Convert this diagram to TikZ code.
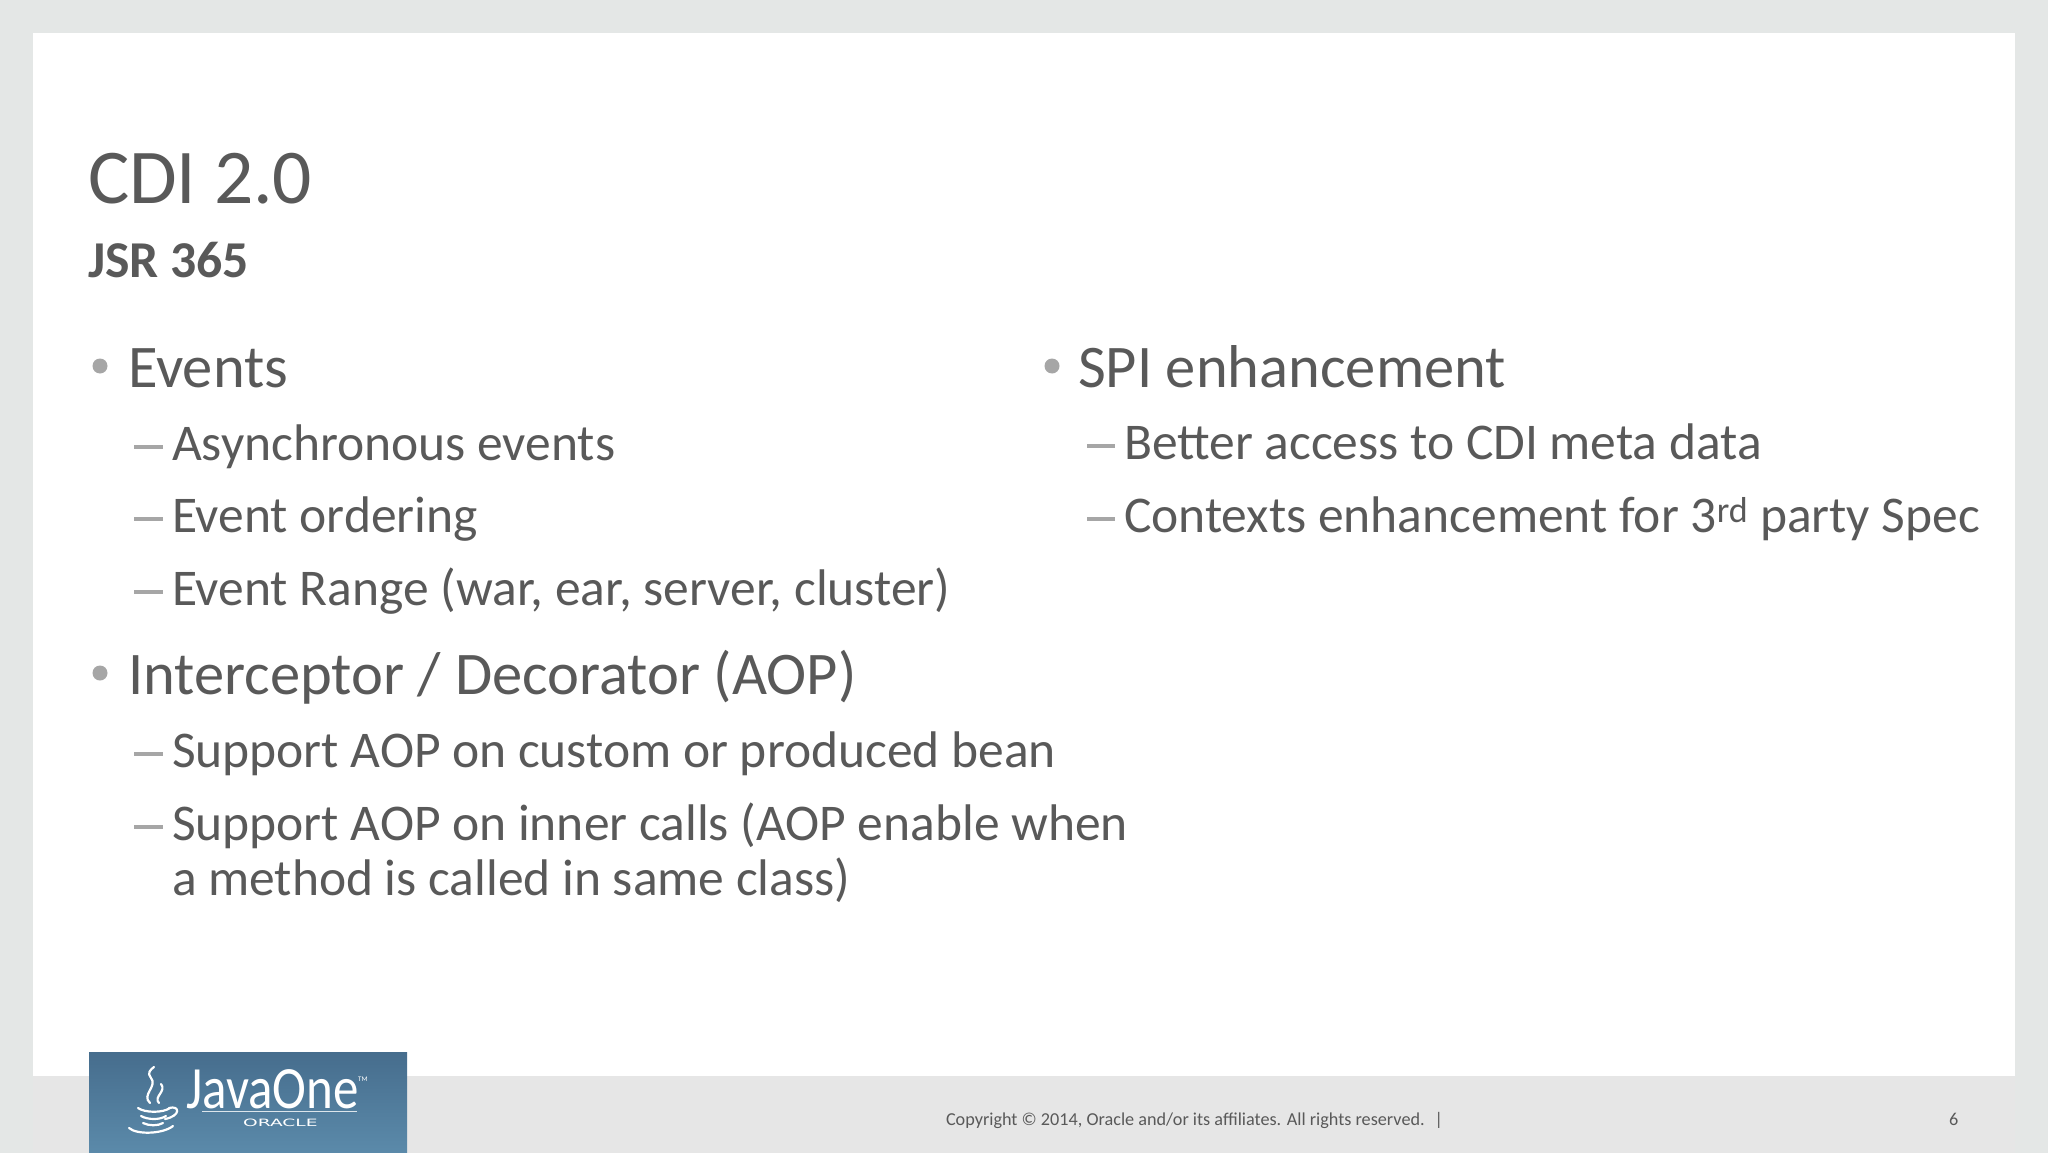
\documentclass[tikz,border=0pt]{standalone}
\usepackage{fontspec}
\setmainfont{Carlito}
\newfontfamily\oraclefont{DejaVu Sans}
\definecolor{outerbg}{HTML}{E4E7E6}
\definecolor{footbg}{HTML}{E6E6E6}
\definecolor{txt}{HTML}{595959}
\definecolor{bul}{HTML}{A6A6A6}
\definecolor{logotop}{HTML}{466D8D}
\definecolor{logobot}{HTML}{5B8AAA}
\tikzset{
  lbl/.style={anchor=base west, inner sep=0pt, outer sep=0pt, text=txt},
  title/.style={lbl, font=\fontsize{77.5}{82}\selectfont},
  subtitle/.style={lbl, font=\bfseries\fontsize{51.7}{56}\selectfont},
  lvlone/.style={lbl, font=\fontsize{60.5}{66}\selectfont},
  lvltwo/.style={lbl, font=\fontsize{51.5}{55}\selectfont},
  foot/.style={lbl, font=\fontsize{18.2}{22}\selectfont},
  bulletdot/.style={fill=bul, draw=none},
  dashmark/.style={draw=bul, line width=3.2pt},
  cup/.style={draw=white, line width=2.2pt, line cap=round}
}
\begin{document}
\begin{tikzpicture}[x=1pt,y=-1pt]
\useasboundingbox (0,0) rectangle (2048,1153);
% backgrounds
\fill[outerbg] (0,0) rectangle (2048,1153);
\fill[white] (33,33) rectangle (2015,1076);
\fill[footbg] (33,1076) rectangle (2015,1153);
% title
\node[title] (t) at (88,203) {CDI 2.0};
\node[subtitle] (st) at (88,277) {JSR 365};
% left column
\fill[bulletdot] (100,366) circle (7.5);
\node[lvlone] (ev) at (128,387) {Events};
\draw[dashmark] (134,447) -- (163,447);
\node[lvltwo] (ev1) at (172,460) {Asynchronous events};
\draw[dashmark] (134,519) -- (163,519);
\node[lvltwo] (ev2) at (172,532) {Event ordering};
\draw[dashmark] (134,592) -- (163,592);
\node[lvltwo] (ev3) at (172,605) {Event Range (war, ear, server, cluster)};
\fill[bulletdot] (100,673) circle (7.5);
\node[lvlone] (ic) at (128,694) {Interceptor / Decorator (AOP)};
\draw[dashmark] (134,754) -- (163,754);
\node[lvltwo] (ic1) at (172,767) {Support AOP on custom or produced bean};
\draw[dashmark] (134,827) -- (163,827);
\node[lvltwo] (ic2) at (172,840) {\vtop{\hbox{Support AOP on inner calls (AOP enable when}\hbox{a method is called in same class)}}};
% right column
\fill[bulletdot] (1052,366) circle (7.5);
\node[lvlone] (spi) at (1078,387) {SPI enhancement};
\draw[dashmark] (1087,446) -- (1115,446);
\node[lvltwo] (spi1) at (1124,459) {Better access to CDI meta data};
\draw[dashmark] (1087,519) -- (1115,519);
\node[lvltwo] (spi2) at (1124,532) {Contexts enhancement for 3\textsuperscript{rd} party Spec};
% footer
\node[foot] (copy) at (946,1125) {Copyright \textcopyright\ 2014, Oracle and/or its affiliates. All rights reserved.\hspace{10pt}|};
\node[foot] (pg) at (1949,1125) {6};
% logo
\shade[top color=logotop, bottom color=logobot] (89,1052) rectangle (407,1153);
\node[anchor=base west, inner sep=0pt, text=white, font=\fontsize{60}{62}\selectfont] (jo) at (186,1108) {\scalebox{0.85}[1]{JavaOne}};
\node[anchor=base west, inner sep=0pt, text=white, font=\fontsize{7}{8}\selectfont] (tm) at (358,1081) {TM};
\draw[white, line width=0.8pt, opacity=0.8] (202,1111) -- (357,1111);
\node[anchor=base west, inner sep=0pt, text=white, font=\oraclefont\fontsize{14}{15}\selectfont] (or) at (243,1126) {\scalebox{1.33}[0.72]{ORACLE}};
% java cup icon
\draw[cup] (150,1103) .. controls (141,1095) and (158,1086) .. (151,1078) .. controls (147,1073) and (150,1070) .. (154,1067);
\draw[cup] (159,1103) .. controls (153,1097) and (167,1091) .. (161,1084);
\draw[cup] (138,1108) .. controls (145,1113) and (163,1113) .. (170,1108);
\draw[cup] (141,1116) .. controls (148,1120) and (160,1120) .. (166,1116);
\draw[cup] (143,1123) .. controls (149,1126) and (158,1126) .. (163,1123);
\draw[cup] (169,1108) .. controls (180,1105) and (181,1116) .. (165,1119);
\draw[cup] (129,1128) .. controls (137,1135) and (163,1134) .. (173,1126);
\end{tikzpicture}
\end{document}
